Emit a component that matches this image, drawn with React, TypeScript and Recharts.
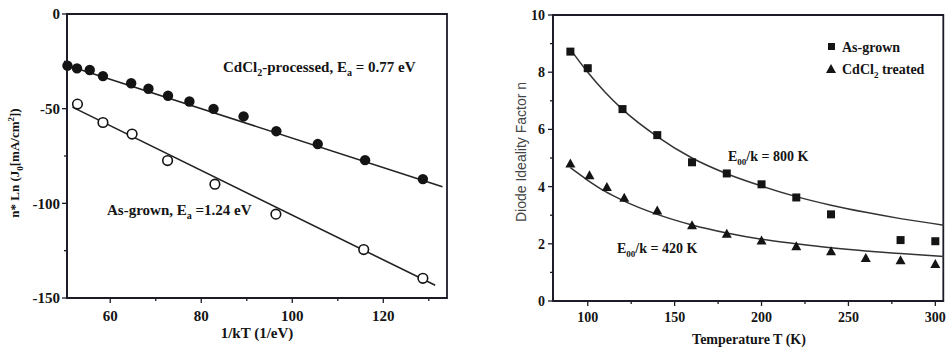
import React from 'react';
import { ComposedChart, Scatter, Line, XAxis, YAxis, ReferenceArea } from 'recharts';

// ---------- Left panel: n* Ln(J0) vs 1/kT ----------
const invKTProcessed = [50.6, 52.7, 55.5, 58.4, 64.6, 68.4, 72.7, 77.4, 82.7, 89.3, 96.5, 105.6, 116.0, 128.7];
const lnJProcessed = [-27.3, -28.7, -29.6, -32.8, -36.6, -39.5, -43.2, -46.2, -50.1, -54.1, -61.9, -68.7, -77.2, -87.2];
const invKTAsGrown = [52.8, 58.4, 64.8, 72.6, 83.0, 96.4, 115.7, 128.7];
const lnJAsGrown = [-47.6, -57.3, -63.4, -77.4, -89.9, -105.7, -124.4, -139.6];
const fitProcessedX = [50.6, 133.0];
const fitProcessedY = [-27.2, -91.2];
const fitAsGrownX = [51.7, 131.4];
const fitAsGrownY = [-49.2, -143.3];
const leftXTicks = [60, 70, 80, 90, 100, 110, 120, 130];
const leftXMajor = [60, 80, 100, 120];
const leftYTicks = [0, -25, -50, -75, -100, -125, -150];
const leftYMajor = [0, -50, -100, -150];

// ---------- Right panel: ideality factor vs T ----------
const tempAsGrown = [90, 100, 120, 140, 160, 180, 200, 220, 240, 280, 300];
const nAsGrown = [8.72, 8.14, 6.71, 5.8, 4.85, 4.46, 4.08, 3.62, 3.03, 2.13, 2.09];
const tempTreated = [90, 101, 111, 121, 140, 160, 180, 200, 220, 240, 260, 280, 300];
const nTreated = [4.79, 4.38, 3.97, 3.59, 3.15, 2.63, 2.33, 2.1, 1.9, 1.72, 1.49, 1.41, 1.28];
const fitTemp = [90, 100, 110, 120, 140, 160, 180, 200, 220, 240, 260, 280, 305];
const fitN800 = [8.8, 8.0, 7.3, 6.7, 5.75, 5.0, 4.45, 4.02, 3.65, 3.35, 3.1, 2.88, 2.65];
const fitN420 = [4.66, 4.22, 3.83, 3.52, 3.03, 2.66, 2.38, 2.16, 2.0, 1.86, 1.75, 1.66, 1.56];
const rightXTicks = [100, 125, 150, 175, 200, 225, 250, 275, 300];
const rightXMajor = [100, 150, 200, 250, 300];
const rightYTicks = [0, 1, 2, 3, 4, 5, 6, 7, 8, 9, 10];
const rightYMajor = [0, 2, 4, 6, 8, 10];

const zip = (xs: number[], ys: number[]) => xs.map((x, i) => ({ x, y: ys[i] }));

const SERIF = '"Liberation Serif", "Times New Roman", serif';
const SANS = '"Liberation Sans", Arial, sans-serif';
const INK = '#141414';
const AXIS = '#1c1c28';

const makeXTick = (majors: number[], fontSize: number, offset: number) => (props: any) => {
  const { x, y, payload } = props;
  const major = majors.includes(payload.value);
  return (
    <g>
      <line x1={x} x2={x} y1={y} y2={y + (major ? 5 : 3)} stroke={AXIS} strokeWidth={1.3} />
      {major && (
        <text x={x} y={y + offset} dy="0.35em" textAnchor="middle" fontFamily={SERIF} fontWeight="bold" fontSize={fontSize} fill={INK}>
          {payload.value}
        </text>
      )}
    </g>
  );
};

const makeYTick = (majors: number[], fontSize: number, gap: number) => (props: any) => {
  const { x, y, payload } = props;
  const major = majors.includes(payload.value);
  return (
    <g>
      <line x1={x - (major ? 5 : 3)} x2={x} y1={y} y2={y} stroke={AXIS} strokeWidth={1.3} />
      {major && (
        <text x={x - gap} y={y} dy="0.35em" textAnchor="end" fontFamily={SERIF} fontWeight="bold" fontSize={fontSize} fill={INK}>
          {payload.value}
        </text>
      )}
    </g>
  );
};

const FilledCircle = (p: any) => <circle cx={p.cx} cy={p.cy} r={5.2} fill={INK} />;
const OpenCircle = (p: any) => <circle cx={p.cx} cy={p.cy} r={4.8} fill="#fff" stroke={INK} strokeWidth={1.6} />;
const Square = (p: any) => <rect x={p.cx - 4} y={p.cy - 4} width={8} height={8} fill={INK} />;
const Triangle = (p: any) => (
  <polygon points={`${p.cx},${p.cy - 5.5} ${p.cx - 5},${p.cy + 3.5} ${p.cx + 5},${p.cy + 3.5}`} fill={INK} />
);

const Sub = ({ children, size = 10 }: any) => (
  <tspan dy={4} fontSize={size}>{children}</tspan>
);

function LeftChart() {
  return (
    <ComposedChart width={480} height={353} margin={{ top: 14, right: 33, bottom: 0, left: 0 }}>
      <XAxis
        dataKey="x"
        type="number"
        domain={[50.5, 134]}
        ticks={leftXTicks}
        interval={0}
        height={55}
        tickSize={0}
        tickMargin={0}
        tickLine={false}
        axisLine={{ stroke: AXIS, strokeWidth: 1.8 }}
        tick={makeXTick(leftXMajor, 15, 18)}
      />
      <YAxis
        dataKey="y"
        type="number"
        domain={[-150, 0]}
        ticks={leftYTicks}
        interval={0}
        width={67}
        tickSize={0}
        tickMargin={0}
        tickLine={false}
        axisLine={{ stroke: AXIS, strokeWidth: 1.8 }}
        tick={makeYTick(leftYMajor, 15, 7)}
      />
      <ReferenceArea x1={50.5} x2={134} y1={-150} y2={0} fill="none" stroke={AXIS} strokeWidth={1.8} />
      <Line data={zip(fitProcessedX, fitProcessedY)} dataKey="y" type="linear" stroke="#222" strokeWidth={1.6} dot={false} isAnimationActive={false} />
      <Line data={zip(fitAsGrownX, fitAsGrownY)} dataKey="y" type="linear" stroke="#222" strokeWidth={1.6} dot={false} isAnimationActive={false} />
      <Scatter data={zip(invKTProcessed, lnJProcessed)} dataKey="y" shape={FilledCircle} isAnimationActive={false} />
      <Scatter data={zip(invKTAsGrown, lnJAsGrown)} dataKey="y" shape={OpenCircle} isAnimationActive={false} />
      <text x={223} y={72} fontFamily={SERIF} fontWeight="bold" fontSize={15} fill={INK}>
        <tspan>CdCl</tspan>
        <Sub>2</Sub>
        <tspan dy={-4}>-processed, E</tspan>
        <Sub>a</Sub>
        <tspan dy={-4}> = 0.77 eV</tspan>
      </text>
      <text x={107} y={215} fontFamily={SERIF} fontWeight="bold" fontSize={15} fill={INK}>
        <tspan>As-grown, E</tspan>
        <Sub>a</Sub>
        <tspan dy={-4}> =1.24 eV</tspan>
      </text>
      <text x={257} y={338} textAnchor="middle" fontFamily={SERIF} fontWeight="bold" fontSize={15} fill={INK}>
        1/kT (1/eV)
      </text>
      <text transform="translate(19,163) rotate(-90)" textAnchor="middle" fontFamily={SERIF} fontWeight="bold" fontSize={13} fill={INK}>
        <tspan>n* Ln (J</tspan>
        <Sub size={9}>0</Sub>
        <tspan dy={-4}>[mA/cm</tspan>
        <tspan dy={-5} fontSize={9}>2</tspan>
        <tspan dy={5}>])</tspan>
      </text>
    </ComposedChart>
  );
}

function RightChart() {
  return (
    <ComposedChart width={471} height={353} margin={{ top: 15, right: 7, bottom: 0, left: 0 }}>
      <XAxis
        dataKey="x"
        type="number"
        domain={[80, 304.6]}
        ticks={rightXTicks}
        interval={0}
        height={52}
        tickSize={0}
        tickMargin={0}
        tickLine={false}
        axisLine={{ stroke: AXIS, strokeWidth: 1.8 }}
        tick={makeXTick(rightXMajor, 14, 16)}
      />
      <YAxis
        dataKey="y"
        type="number"
        domain={[0, 10]}
        ticks={rightYTicks}
        interval={0}
        width={73}
        tickSize={0}
        tickMargin={0}
        tickLine={false}
        axisLine={{ stroke: AXIS, strokeWidth: 1.8 }}
        tick={makeYTick(rightYMajor, 14, 8)}
      />
      <ReferenceArea x1={80} x2={304.6} y1={0} y2={10} fill="none" stroke={AXIS} strokeWidth={1.8} />
      <Line data={zip(fitTemp, fitN800)} dataKey="y" type="monotone" stroke="#333" strokeWidth={1.5} dot={false} isAnimationActive={false} />
      <Line data={zip(fitTemp, fitN420)} dataKey="y" type="monotone" stroke="#333" strokeWidth={1.5} dot={false} isAnimationActive={false} />
      <Scatter data={zip(tempAsGrown, nAsGrown)} dataKey="y" shape={Square} isAnimationActive={false} />
      <Scatter data={zip(tempTreated, nTreated)} dataKey="y" shape={Triangle} isAnimationActive={false} />
      <rect x={348} y={43} width={7} height={7} fill={INK} />
      <text x={362} y={51.5} fontFamily={SERIF} fontWeight="bold" fontSize={14} fill={INK}>As-grown</text>
      <polygon points="351,64 346,73 356,73" fill={INK} />
      <text x={362} y={74} fontFamily={SERIF} fontWeight="bold" fontSize={14} fill={INK}>
        <tspan>CdCl</tspan>
        <Sub size={9}>2</Sub>
        <tspan dy={-4}>  treated</tspan>
      </text>
      <text x={248} y={161} fontFamily={SERIF} fontWeight="bold" fontSize={14} fill={INK}>
        <tspan>E</tspan>
        <Sub size={9}>00</Sub>
        <tspan dy={-4}>/k = 800 K</tspan>
      </text>
      <text x={137} y={253} fontFamily={SERIF} fontWeight="bold" fontSize={14} fill={INK}>
        <tspan>E</tspan>
        <Sub size={9}>00</Sub>
        <tspan dy={-4}>/k = 420 K</tspan>
      </text>
      <text x={269} y={344} textAnchor="middle" fontFamily={SERIF} fontWeight="bold" fontSize={14} fill={INK}>
        Temperature T (K)
      </text>
      <text transform="translate(46,152) rotate(-90)" textAnchor="middle" fontFamily={SANS} fontSize={14} fill="#444">
        Diode Ideality Factor n
      </text>
    </ComposedChart>
  );
}

export default function App() {
  return (
    <div style={{ position: 'absolute', left: 0, top: 0, width: 951, height: 353, background: '#fff' }}>
      <div style={{ position: 'absolute', left: 0, top: 0 }}>
        <LeftChart />
      </div>
      <div style={{ position: 'absolute', left: 480, top: 0 }}>
        <RightChart />
      </div>
    </div>
  );
}
